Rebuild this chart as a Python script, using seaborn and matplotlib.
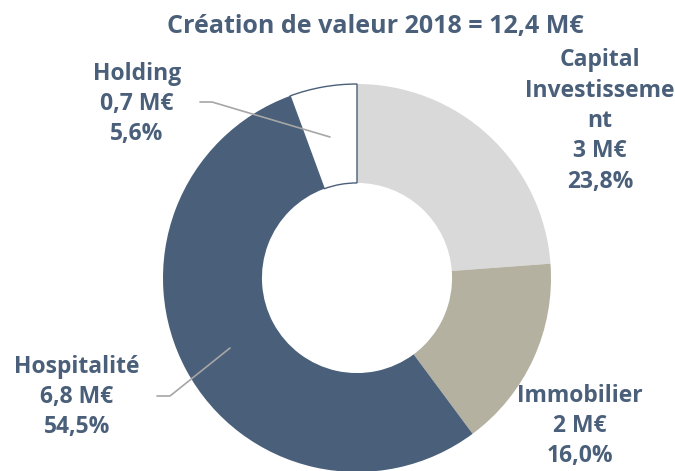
import matplotlib
matplotlib.use('Agg')
import matplotlib.pyplot as plt
import seaborn as sns

# Data
segments = ['Capital Investissement', 'Immobilier', 'Hospitalité', 'Holding']
shares = [23.8, 16.0, 54.5, 5.6]
amounts = ['3 M€', '2 M€', '6,8 M€', '0,7 M€']
label_text = ['Capital\nInvestisseme\nnt', 'Immobilier', 'Hospitalité', 'Holding']
colors = ['#d9d9d9', '#b4b1a1', '#4a5f79', '#ffffff']
title = 'Création de valeur 2018 = 12,4 M€'

sns.set_theme(style='white')
plt.rcParams['font.family'] = ['Open Sans', 'DejaVu Sans']
text_color = '#4a5f79'

W, H = 675, 471
fig = plt.figure(figsize=(W / 100, H / 100), dpi=100)

# donut centred at (357, 278) px, outer radius ~194 px
cx, cy, r = 357, 278, 194
ax = fig.add_axes([(cx - r) / W, (H - cy - r) / H, 2 * r / W, 2 * r / H])
wedges, _ = ax.pie(shares, colors=colors, startangle=90, counterclock=False,
                   radius=1, wedgeprops=dict(width=0.51, linewidth=0))
wedges[3].set_edgecolor(text_color)
wedges[3].set_linewidth(1)
ax.set_xlim(-1, 1)
ax.set_ylim(-1, 1)
ax.set_aspect('equal')
ax.axis('off')


def px(x, y):
    return x / W, 1 - y / H


# title
fig.text(*px(375, 27), title, ha='center', va='center', fontsize=18,
         fontweight='bold', color=text_color)

# labels: (x, y of block centre in px)
label_pos = [(600, 121), (580, 426), (77, 397), (137, 104)]
for name, amt, pct, (x, y) in zip(label_text, amounts, shares, label_pos):
    txt = f'{name}\n{amt}\n{pct:.1f}%'.replace('.', ',')
    fig.text(*px(x, y), txt, ha='center', va='center', fontsize=16.5,
             fontweight='bold', color=text_color, linespacing=1.35)

# leader lines
line_color = '#a6a6a6'
for pts in [[(200, 102), (212, 102), (330, 137)],
            [(157, 396), (170, 396), (230, 348)]]:
    xs = [p[0] / W for p in pts]
    ys = [1 - p[1] / H for p in pts]
    fig.add_artist(plt.Line2D(xs, ys, color=line_color, linewidth=1.2))

fig.savefig('out.png', dpi=100)
